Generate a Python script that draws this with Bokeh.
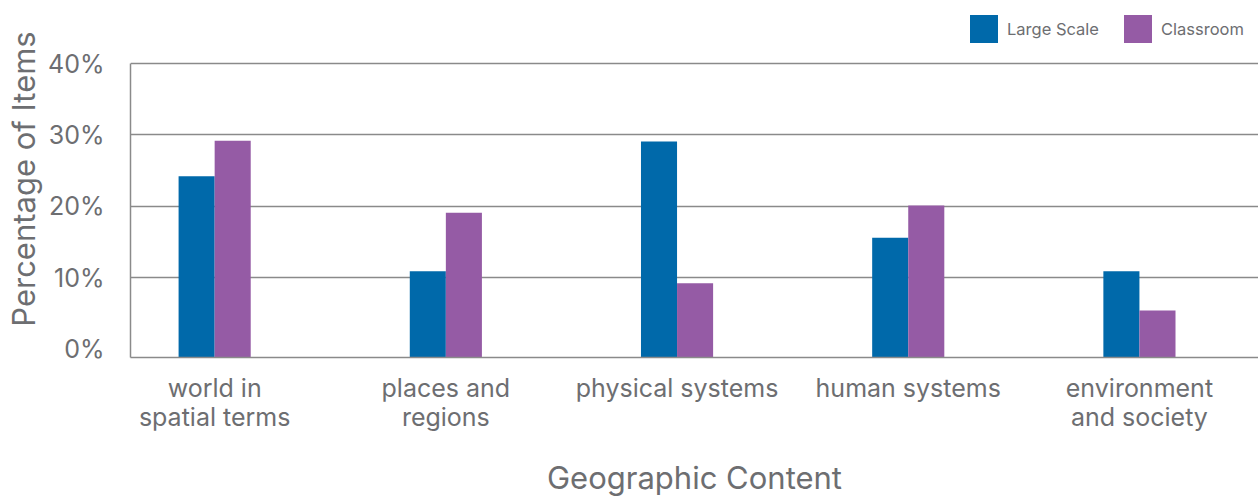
from bokeh.plotting import figure
from bokeh.models import Range1d, FixedTicker, Legend, LegendItem, ColumnDataSource
from bokeh.transform import dodge
from bokeh.embed import file_html
from bokeh.resources import INLINE

categories = ["world in\nspatial terms", "places and\nregions", "physical systems",
              "human systems", "environment\nand society"]
large_scale = [24.2, 10.9, 29.1, 15.6, 10.9]
classroom = [29.2, 19.1, 9.2, 20.1, 5.4]
series_names = ["Large Scale", "Classroom"]
y_ticks = [0, 10, 20, 30, 40]
y_tick_labels = ["0%", "10%", "20%", "30%", "40%"]
grid_ticks = [10, 20, 30, 40]

FONT = "Inter"
TEXT = "#6D6E71"
LINE = "#8A8A8A"
BLUE = "#0069AA"
PURPLE = "#955BA5"

x = list(range(len(categories)))
bw = 0.156
y_base = -1.2

p = figure(width=1258, height=500, output_backend="svg", toolbar_location=None,
           x_range=Range1d(-0.364, 4.515), y_range=Range1d(y_base, 48.86),
           min_border_left=130, min_border_right=0, min_border_top=0,
           min_border_bottom=143)
p.outline_line_color = None
p.background_fill_color = "white"
p.border_fill_color = "white"

src = ColumnDataSource(dict(x=x, ls=large_scale, cr=classroom))
r1 = p.vbar(x=dodge("x", -bw / 2, range=p.x_range), top="ls", bottom=y_base, width=bw,
            source=src, fill_color=BLUE, line_color=None)
r2 = p.vbar(x=dodge("x", bw / 2, range=p.x_range), top="cr", bottom=y_base, width=bw,
            source=src, fill_color=PURPLE, line_color=None)

legend = Legend(items=[LegendItem(label=series_names[0], renderers=[r1]),
                       LegendItem(label=series_names[1], renderers=[r2])],
                orientation="horizontal", location=(836, 311), padding=0, margin=0,
                spacing=21, glyph_width=35, glyph_height=35, label_standoff=6,
                label_text_font_size="16.5px", label_text_color=TEXT, label_text_font=FONT,
                border_line_color=None, background_fill_alpha=0)
p.add_layout(legend)

# y axis
p.yaxis.ticker = FixedTicker(ticks=y_ticks)
p.yaxis.bounds = (y_base, y_ticks[-1])
p.yaxis.major_label_overrides = {t: l for t, l in zip(y_ticks, y_tick_labels)}
p.yaxis.major_tick_line_color = None
p.yaxis.minor_tick_line_color = None
p.yaxis.axis_line_color = LINE
p.yaxis.axis_line_width = 1.5
p.yaxis.major_label_text_font = FONT
p.yaxis.major_label_text_font_size = "25px"
p.yaxis.major_label_text_color = TEXT
p.yaxis.major_label_standoff = 20
p.yaxis.axis_label = "Percentage of Items"
p.yaxis.axis_label_text_font = FONT
p.yaxis.axis_label_text_font_size = "31px"
p.yaxis.axis_label_text_font_style = "normal"
p.yaxis.axis_label_text_color = TEXT
p.yaxis.axis_label_standoff = 3

# x axis
p.xaxis.ticker = FixedTicker(ticks=x)
p.xaxis.major_label_overrides = {i: c for i, c in zip(x, categories)}
p.xaxis.major_tick_line_color = None
p.xaxis.minor_tick_line_color = None
p.xaxis.axis_line_color = LINE
p.xaxis.axis_line_width = 1.5
p.xaxis.major_label_text_font = FONT
p.xaxis.major_label_text_font_size = "25px"
p.xaxis.major_label_text_line_height = 0.99
p.xaxis.major_label_text_color = TEXT
p.xaxis.major_label_standoff = 9
p.xaxis.axis_label = "Geographic Content"
p.xaxis.axis_label_text_font = FONT
p.xaxis.axis_label_text_font_size = "31px"
p.xaxis.axis_label_text_font_style = "normal"
p.xaxis.axis_label_text_color = TEXT
p.xaxis.axis_label_standoff = 24

# grid
p.xgrid.visible = False
p.ygrid.ticker = FixedTicker(ticks=grid_ticks)
p.ygrid.grid_line_color = LINE
p.ygrid.grid_line_width = 1.5

open("out.html", "w").write(file_html(p, INLINE))
